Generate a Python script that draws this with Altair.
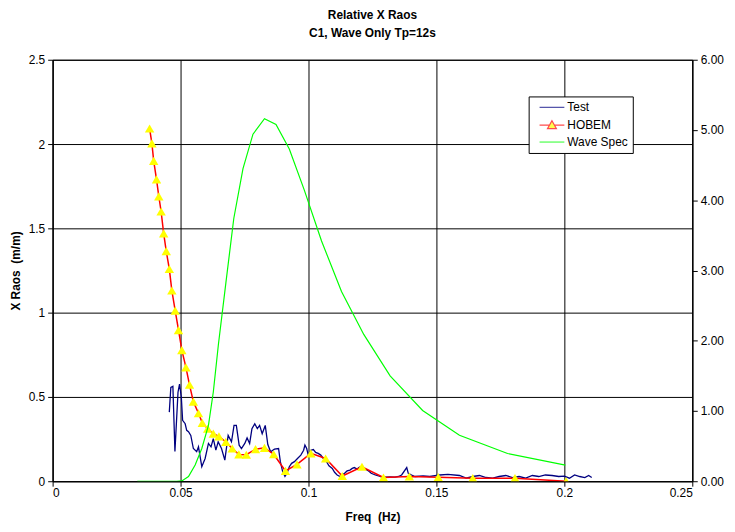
import altair as alt
import pandas as pd

# ---------------- data ----------------
test_freq = [0.0456, 0.0462, 0.0470, 0.0478, 0.0490, 0.0496, 0.0503, 0.0508, 0.0518, 0.0524,
             0.0531, 0.0540, 0.0550, 0.0563, 0.0570, 0.0583, 0.0596, 0.0609, 0.0619, 0.0628,
             0.0638, 0.0647, 0.0660, 0.0673, 0.0686, 0.0699, 0.0709, 0.0718, 0.0729, 0.0738,
             0.0751, 0.0760, 0.0770, 0.0779, 0.0790, 0.0800, 0.0809, 0.0819, 0.0831, 0.0841,
             0.0852, 0.0867, 0.0883, 0.0890, 0.0899, 0.0908, 0.0916, 0.0925, 0.0934, 0.0945,
             0.0957, 0.0970, 0.0981, 0.0986, 0.0993, 0.0999, 0.1009, 0.1019, 0.1028, 0.1038,
             0.1048, 0.1058, 0.1067, 0.1080, 0.1093, 0.1102, 0.1112, 0.1123, 0.1141, 0.1151,
             0.1162, 0.1171, 0.1179, 0.1190, 0.1197, 0.1203, 0.1213, 0.1222, 0.1235, 0.1245,
             0.1261, 0.1274, 0.1287, 0.1300, 0.1319, 0.1338, 0.1352, 0.1364, 0.1384, 0.1390,
             0.1403, 0.1416, 0.1448, 0.1474, 0.1513, 0.1545, 0.1590, 0.1616, 0.1642, 0.1668,
             0.1694, 0.1720, 0.1745, 0.1771, 0.1797, 0.1823, 0.1849, 0.1875, 0.1900, 0.1926,
             0.1952, 0.1978, 0.2000, 0.2020, 0.2040, 0.2060, 0.2080, 0.2095, 0.2107]
test_val = [0.410, 0.557, 0.563, 0.176, 0.528, 0.576, 0.498, 0.361, 0.341, 0.302,
            0.294, 0.272, 0.194, 0.175, 0.204, 0.086, 0.135, 0.224, 0.204, 0.253,
            0.184, 0.234, 0.194, 0.125, 0.272, 0.234, 0.331, 0.331, 0.214, 0.194,
            0.224, 0.257, 0.224, 0.312, 0.341, 0.312, 0.331, 0.282, 0.331, 0.218,
            0.175, 0.190, 0.194, 0.116, 0.057, 0.028, 0.047, 0.086, 0.106, 0.116,
            0.135, 0.155, 0.184, 0.214, 0.194, 0.155, 0.184, 0.188, 0.171, 0.165,
            0.155, 0.135, 0.125, 0.092, 0.076, 0.053, 0.037, 0.028, 0.047, 0.061,
            0.066, 0.076, 0.081, 0.072, 0.081, 0.086, 0.076, 0.072, 0.061, 0.047,
            0.037, 0.031, 0.025, 0.024, 0.025, 0.024, 0.028, 0.037, 0.081, 0.047,
            0.037, 0.028, 0.031, 0.028, 0.037, 0.041, 0.034, 0.018, 0.028, 0.034,
            0.022, 0.018, 0.028, 0.034, 0.022, 0.028, 0.018, 0.034, 0.028, 0.037,
            0.034, 0.028, 0.030, 0.018, 0.037, 0.028, 0.022, 0.034, 0.022]

hobem_freq = [0.0379, 0.0388, 0.0395, 0.0406, 0.0415, 0.0424, 0.0434, 0.0444, 0.0456, 0.0466,
              0.0479, 0.0492, 0.0505, 0.0521, 0.0535, 0.0550, 0.0570, 0.0585, 0.0606, 0.0628,
              0.0650, 0.0677, 0.0702, 0.0728, 0.0757, 0.0793, 0.0828, 0.0864, 0.0910, 0.0955,
              0.1009, 0.1067, 0.1132, 0.1209, 0.1293, 0.1394, 0.1507, 0.1642, 0.1807, 0.2007]
hobem_val = [2.092, 2.004, 1.900, 1.790, 1.690, 1.600, 1.470, 1.365, 1.259, 1.131,
             1.012, 0.896, 0.778, 0.675, 0.572, 0.472, 0.403, 0.346, 0.312, 0.282,
             0.266, 0.233, 0.194, 0.159, 0.157, 0.190, 0.198, 0.160, 0.061, 0.100,
             0.165, 0.135, 0.031, 0.086, 0.022, 0.028, 0.024, 0.018, 0.018, 0.000]

wave_freq = [0.0331, 0.0400, 0.0450, 0.0485, 0.0505, 0.0531, 0.0557, 0.0583, 0.0609, 0.0628,
             0.0648, 0.0677, 0.0708, 0.0744, 0.0783, 0.0828, 0.0873, 0.0925, 0.0984, 0.1051,
             0.1129, 0.1216, 0.1319, 0.1446, 0.1590, 0.1778, 0.2004]
wave_val = [0.000, 0.000, 0.000, 0.000, 0.004, 0.066, 0.230, 0.466, 0.795, 1.270,
            1.950, 2.820, 3.740, 4.450, 4.940, 5.160, 5.080, 4.730, 4.140, 3.420,
            2.700, 2.090, 1.500, 1.007, 0.654, 0.395, 0.230]

series_names = ["Test", "HOBEM", "Wave Spec"]
series_colors = ["#000080", "#FF0000", "#00FF00"]
legend_paths = ["M0,0H5",
                "M0,0H1.95M3.05,0H5M2.5,-0.9L3.4,0.7L1.6,0.7Z",
                "M0,0H5"]

x_ticks = [0, 0.05, 0.1, 0.15, 0.2, 0.25]
y_ticks = [0, 0.5, 1, 1.5, 2, 2.5]
y2_ticks = [0, 1, 2, 3, 4, 5, 6]

# ---------------- tables ----------------
test_df = pd.DataFrame({"freq": test_freq, "rao": test_val})
hobem_df = pd.DataFrame({"freq": hobem_freq, "rao": hobem_val})
wave_df = pd.DataFrame({"freq": wave_freq, "spec": wave_val})
legend_df = pd.DataFrame({"series": series_names, "freq": [-1.0] * 3, "rao": [0.0] * 3})

FONT = "Liberation Sans"

x_enc = alt.X("freq:Q",
              scale=alt.Scale(domain=[0, 0.25], nice=False),
              axis=alt.Axis(values=x_ticks, format="~g", title="Freq \u00a0(Hz)",
                            grid=True, gridColor="black", labelPadding=1, titlePadding=14))
y_enc = alt.Y("rao:Q",
              scale=alt.Scale(domain=[0, 2.5], nice=False),
              axis=alt.Axis(values=y_ticks, format="~g", title="X Raos \u00a0(m/m)",
                            grid=True, gridColor="black", labelPadding=3, titlePadding=6))

test_line = alt.Chart(test_df).mark_line(color="#000080", strokeWidth=1.3, clip=True).encode(
    x=x_enc, y=y_enc)
hobem_line = alt.Chart(hobem_df).mark_line(color="#FF0000", strokeWidth=1.5, clip=True).encode(
    x=x_enc, y=y_enc)
hobem_pts = alt.Chart(hobem_df).mark_point(shape="triangle-up", filled=True, color="#FFFF00",
                                           size=90, opacity=1, clip=True).encode(x=x_enc, y=y_enc)

leg = dict(orient="none", legendX=480, legendY=37, title=None, fillColor="white",
           strokeColor="black", padding=5, rowPadding=5, labelOffset=22, symbolSize=100,
           symbolStrokeWidth=1.2, labelFont=FONT, labelFontSize=12, labelColor="black")
legend_layer = alt.Chart(legend_df).mark_point(filled=False, fill="#FFFF00", clip=True).encode(
    x=x_enc, y=y_enc,
    color=alt.Color("series:N", scale=alt.Scale(domain=series_names, range=series_colors),
                    legend=alt.Legend(**leg)),
    shape=alt.Shape("series:N", scale=alt.Scale(domain=series_names, range=legend_paths),
                    legend=alt.Legend(**leg)),
)

left = alt.layer(test_line, hobem_line, hobem_pts, legend_layer)

wave_line = alt.Chart(wave_df).mark_line(color="#00FF00", strokeWidth=1.2, clip=True).encode(
    x=x_enc,
    y=alt.Y("spec:Q", scale=alt.Scale(domain=[0, 6], nice=False),
            axis=alt.Axis(orient="right", values=y2_ticks, format=".2f", title=None,
                          grid=False, labelPadding=3)),
)

chart = alt.layer(left, wave_line).resolve_scale(y="independent").properties(
    width=645, height=425,
    background="white",
    autosize=alt.AutoSizeParams(type="none"),
    padding={"left": 45, "top": 50, "right": 35, "bottom": 46},
    title=alt.Title(text=["Relative X Raos", "C1, Wave Only Tp=12s"], font=FONT, fontSize=12,
                    fontWeight="bold", color="black", offset=14, lineHeight=18,
                    anchor="middle", frame="group"),
).configure_view(stroke="black", strokeWidth=1).configure_axis(
    domainColor="black", domainWidth=1, tickColor="black", tickSize=5, tickWidth=1,
    labelColor="black", labelFont=FONT, labelFontSize=12,
    titleColor="black", titleFont=FONT, titleFontSize=12, titleFontWeight="bold",
    gridColor="black", gridOpacity=1, gridWidth=1,
)

chart.save("out.html", embed_options={"renderer": "svg", "actions": False})
